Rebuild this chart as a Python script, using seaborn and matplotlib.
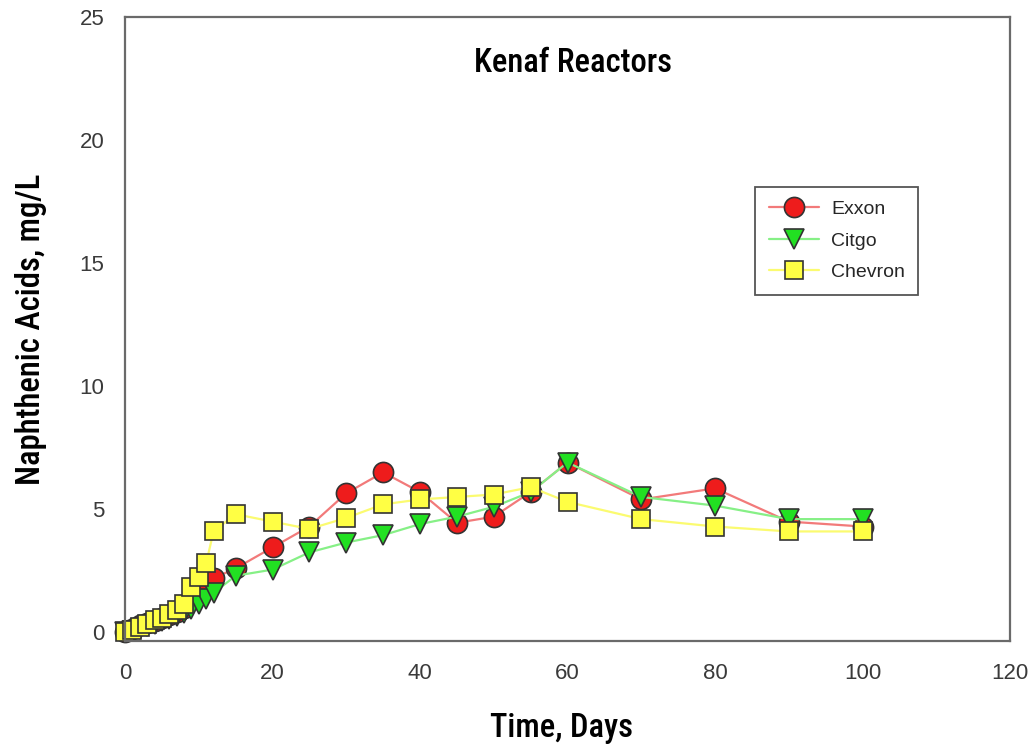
import matplotlib
matplotlib.use("Agg")
import matplotlib.pyplot as plt
import seaborn as sns
import pandas as pd

# Sampling days and naphthenic acid concentrations (mg/L) per crude source
days = [0, 1, 2, 3, 4, 5, 6, 7, 8, 9, 10, 11, 12, 15, 20, 25, 30, 35, 40,
        45, 50, 55, 60, 70, 80, 90, 100]
exxon = [0.0, 0.15, 0.3, 0.38, 0.48, 0.58, 0.7, 0.82, 1.0, 1.3, 1.6, 1.95, 2.2,
         2.6, 3.45, 4.3, 5.65, 6.5, 5.7, 4.45, 4.7, 5.7, 6.9, 5.4, 5.85, 4.5, 4.3]
citgo = [0.0, 0.05, 0.15, 0.25, 0.35, 0.45, 0.55, 0.65, 0.8, 0.95, 1.15, 1.35, 1.6,
         2.3, 2.55, 3.25, 3.65, 3.95, 4.4, 4.7, 5.1, 5.7, 6.9, 5.5, 5.15, 4.6, 4.6]
chevron = [0.0, 0.1, 0.2, 0.35, 0.5, 0.6, 0.75, 0.9, 1.15, 1.85, 2.25, 2.8, 4.1,
           4.8, 4.5, 4.2, 4.65, 5.2, 5.4, 5.5, 5.6, 5.9, 5.3, 4.6, 4.3, 4.1, 4.1]

series_names = ["Exxon", "Citgo", "Chevron"]
line_colors = ["#f27a7a", "#86f086", "#fbfb70"]
face_colors = ["#ee1c1c", "#22e022", "#ffff44"]
markers = ["o", "v", "s"]
marker_sizes = [14.5, 14.5, 13]

x_ticks = [0, 20, 40, 60, 80, 100, 120]
y_ticks = [0, 5, 10, 15, 20, 25]

df = pd.DataFrame({"Day": days, "Exxon": exxon, "Citgo": citgo, "Chevron": chevron})

sns.set_style("white")
plt.rcParams["font.family"] = ["Liberation Sans", "DejaVu Sans"]

fig = plt.figure(figsize=(10.34, 7.51), dpi=100)
ax = fig.add_axes([0.1209, 0.1465, 0.8559, 0.8309])

for name, lc, fc, mk, ms in zip(series_names, line_colors, face_colors, markers, marker_sizes):
    sns.lineplot(data=df, x="Day", y=name, ax=ax, color=lc, linewidth=1.6,
                 marker=mk, markersize=ms, markerfacecolor=fc,
                 markeredgecolor="#333333", markeredgewidth=1.2,
                 label=name, errorbar=None, clip_on=False)

ax.set_xlim(0, 120)
ax.set_ylim(-0.35, 25)
ax.set_xticks(x_ticks)
ax.set_yticks(y_ticks)

label_font = ["Roboto Condensed", "Roboto", "DejaVu Sans"]
ax.set_xlabel("Time, Days", fontsize=23.5, fontfamily=label_font, fontweight="medium",
              color="black")
ax.set_ylabel("Naphthenic Acids, mg/L", fontsize=23.5, fontfamily=label_font,
              fontweight="medium", labelpad=23, color="black")
ax.xaxis.set_label_coords(0.493, -0.139, transform=ax.transAxes)
ax.xaxis.label.set_va("center")
ax.text(0.506, 0.927, "Kenaf Reactors", transform=ax.transAxes, ha="center", va="center",
        fontsize=23.5, fontfamily=label_font, fontweight="medium", color="black")

for side in ["left", "right", "top", "bottom"]:
    ax.spines[side].set_visible(True)
    ax.spines[side].set_color("#6a6a6a")
    ax.spines[side].set_linewidth(1.6)

ax.tick_params(axis="both", direction="out", length=6, width=1.4, color="#6a6a6a",
               labelsize=16, labelcolor="#3a3a3a", pad=9)
ax.tick_params(axis="x", pad=10)

leg = ax.legend(loc="upper left", bbox_to_anchor=(0.712, 0.728), fontsize=14,
                frameon=True, fancybox=False, edgecolor="#555555", framealpha=1,
                borderpad=0.7, labelspacing=0.72, handlelength=2.6, handletextpad=0.6,
                borderaxespad=0)
leg.get_frame().set_linewidth(1.3)

fig.savefig("out.png", dpi=100, facecolor="white")
